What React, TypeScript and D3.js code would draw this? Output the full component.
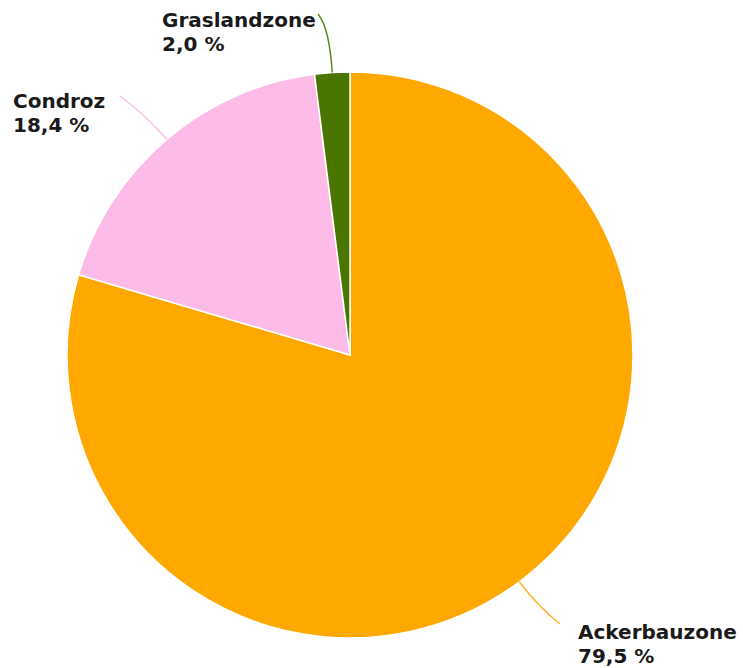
import React from 'react';
import * as d3 from 'd3';

const zones = ['Ackerbauzone', 'Condroz', 'Graslandzone'];
const shares = [79.5, 18.4, 2.0];
const colors = ['#ffa800', '#fdbce8', '#4a7500'];
const lineColors = ['#ffb42a', '#fdbce8', '#5a8a10'];

// label placement: text anchor point and where the connector meets it
const labelPos = [
	{ x: 578, y: 639, lx: 560, ly: 624, bend: 30 },
	{ x: 13, y: 108, lx: 120, ly: 96, bend: 30 },
	{ x: 162, y: 27, lx: 318, ly: 14, bend: 45 },
];

const W = 743;
const H = 668;
const cx = 350;
const cy = 355;
const radius = 283;

export default function App() {
	const pie = d3
		.pie<number>()
		.sort(null)
		.value((d) => d);
	const arcs = pie(shares);
	const arc = d3.arc<d3.PieArcDatum<number>>().innerRadius(0).outerRadius(radius);

	const fmt = (v: number) => v.toFixed(1).replace('.', ',') + ' %';

	return (
		<svg
			width={W}
			height={H}
			style={{ position: 'absolute', left: 0, top: 0, display: 'block' }}
			fontFamily="DejaVu Sans, sans-serif"
		>
			<rect width={W} height={H} fill="#fff" />
			<g transform={`translate(${cx},${cy})`}>
				{arcs.map((a, i) => (
					<path
						key={zones[i]}
						d={arc(a) || ''}
						fill={colors[i]}
						stroke="#fff"
						strokeWidth={1.5}
						strokeLinejoin="round"
					/>
				))}
				{arcs.map((a, i) => {
					const mid = (a.startAngle + a.endAngle) / 2;
					const sx = radius * Math.sin(mid);
					const sy = -radius * Math.cos(mid);
					const p = labelPos[i];
					const ex = p.lx - cx;
					const ey = p.ly - cy;
					const ox = (radius + p.bend) * Math.sin(mid);
					const oy = -(radius + p.bend) * Math.cos(mid);
					return (
						<path
							key={'l' + i}
							d={`M${sx},${sy}Q${ox},${oy} ${ex},${ey}`}
							fill="none"
							stroke={lineColors[i]}
							strokeWidth={1.5}
						/>
					);
				})}
			</g>
			{labelPos.map((p, i) => (
				<text
					key={'t' + i}
					x={p.x}
					y={p.y}
					fontSize={20}
					fontWeight="bold"
					fill="#1a1a1a"
				>
					<tspan x={p.x}>{zones[i]}</tspan>
					<tspan x={p.x} dy={24}>
						{fmt(shares[i])}
					</tspan>
				</text>
			))}
		</svg>
	);
}
